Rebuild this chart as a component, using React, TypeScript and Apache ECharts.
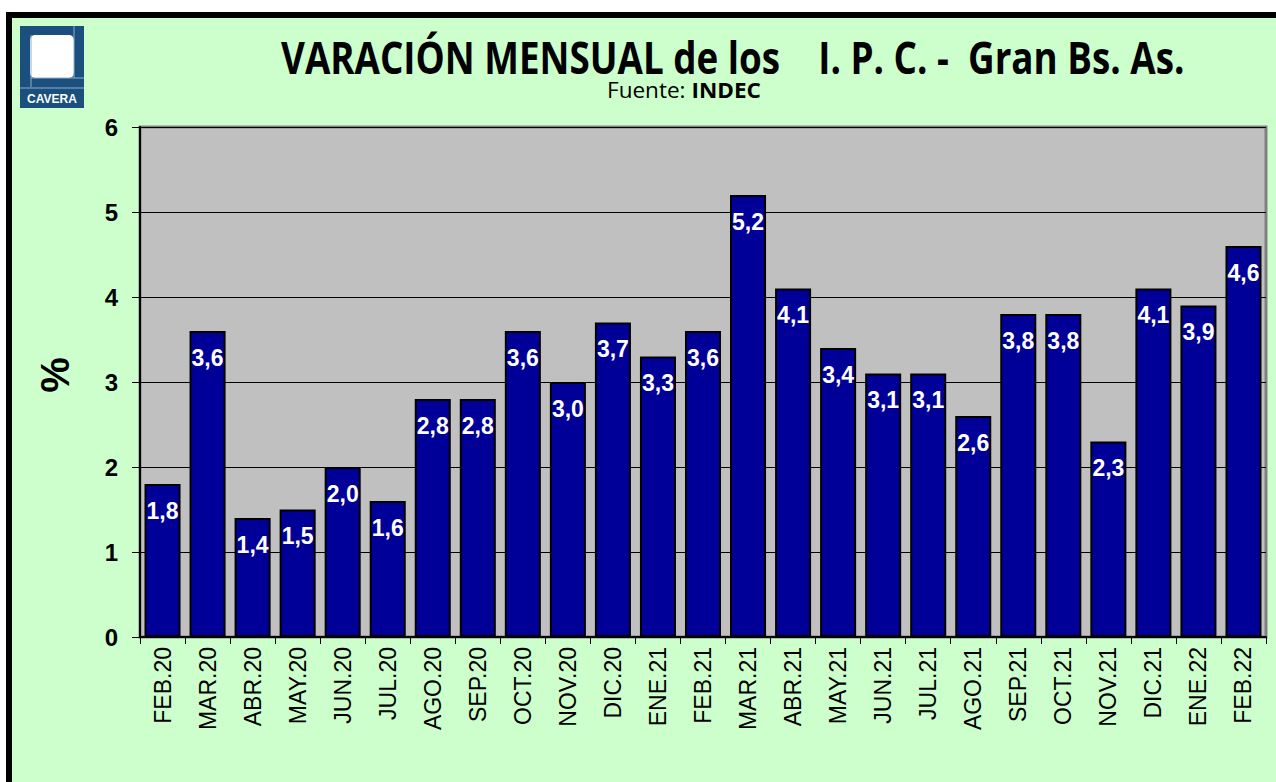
import React, { useEffect, useRef } from "react";
import * as echarts from "echarts";

const categories = [
  "FEB.20", "MAR.20", "ABR.20", "MAY.20", "JUN.20", "JUL.20", "AGO.20", "SEP.20",
  "OCT.20", "NOV.20", "DIC.20", "ENE.21", "FEB.21", "MAR.21", "ABR.21", "MAY.21",
  "JUN.21", "JUL.21", "AGO.21", "SEP.21", "OCT.21", "NOV.21", "DIC.21", "ENE.22", "FEB.22",
];
const values = [
  1.8, 3.6, 1.4, 1.5, 2.0, 1.6, 2.8, 2.8,
  3.6, 3.0, 3.7, 3.3, 3.6, 5.2, 4.1, 3.4,
  3.1, 3.1, 2.6, 3.8, 3.8, 2.3, 4.1, 3.9, 4.6,
];
const titleText = "VARACIÓN MENSUAL de los\u00A0\u00A0\u00A0\u00A0I. P. C. -\u00A0\u00A0Gran Bs. As.";
const sourceLabel = "Fuente: ";
const sourceName = "INDEC";
const yAxisName = "%";
const logoText = "CAVERA";

function measure(text: string, font: string): number {
  const ctx = document.createElement("canvas").getContext("2d");
  if (!ctx) return 100;
  ctx.font = font;
  return ctx.measureText(text).width;
}

export default function App() {
  const ref = useRef<HTMLDivElement>(null);
  useEffect(() => {
    document.body.style.margin = "0";
    if (!ref.current) return;
    const chart = echarts.init(ref.current, undefined, { renderer: "svg" });

    const titleFont = "'Open Sans', sans-serif";
    const titleSize = 44;
    const titleW = measure(titleText, `bold ${titleSize}px ${titleFont}`);
    const titleScale = 904 / titleW;
    const subSize = 22;
    const subW =
      measure(sourceLabel, `${subSize}px ${titleFont}`) +
      measure(sourceName, `bold ${subSize}px ${titleFont}`);
    const subScale = 154 / subW;
    const arial = "Arial, 'Liberation Sans', sans-serif";

    const option: any = {
      animation: false,
      backgroundColor: "#CCFFCC",
      grid: {
        left: 140,
        right: 10,
        top: 127,
        bottom: 145,
        show: true,
        backgroundColor: "#C0C0C0",
        borderColor: "#808080",
        borderWidth: 3,
      },
      xAxis: {
        type: "category",
        data: categories,
        axisLine: { show: true, lineStyle: { color: "#000", width: 2 } },
        axisTick: { show: true, length: 7, lineStyle: { color: "#000", width: 1 } },
        axisLabel: {
          interval: 0,
          rotate: 90,
          margin: 10,
          color: "#000",
          fontSize: 23,
          fontFamily: arial,
        },
      },
      yAxis: {
        type: "value",
        min: 0,
        max: 6,
        interval: 1,
        axisLine: { show: true, lineStyle: { color: "#000", width: 2 } },
        axisTick: { show: true, length: 8, lineStyle: { color: "#000", width: 1 } },
        axisLabel: {
          margin: 22,
          color: "#000",
          fontSize: 24,
          fontWeight: "bold",
          fontFamily: arial,
        },
        splitLine: { show: true, lineStyle: { color: "#000", width: 1 } },
      },
      series: [
        {
          type: "bar",
          data: values,
          barCategoryGap: "20%",
          itemStyle: { color: "#000099", borderColor: "#000", borderWidth: 2 },
          label: {
            show: true,
            position: "insideTop",
            distance: 15,
            color: "#fff",
            fontSize: 23,
            fontWeight: "bold",
            fontFamily: arial,
            formatter: (p: any) => Number(p.value).toFixed(1).replace(".", ","),
          },
        },
      ],
      graphic: [
        { type: "rect", shape: { x: 0, y: 0, width: 1276, height: 12 }, style: { fill: "#fff" }, silent: true },
        { type: "rect", shape: { x: 0, y: 0, width: 6, height: 782 }, style: { fill: "#fff" }, silent: true },
        { type: "rect", shape: { x: 6, y: 12, width: 1270, height: 6 }, style: { fill: "#000" }, silent: true },
        { type: "rect", shape: { x: 6, y: 12, width: 6, height: 770 }, style: { fill: "#000" }, silent: true },
        // logo
        { type: "rect", shape: { x: 20, y: 26, width: 64, height: 82 }, style: { fill: "#1B4F7E" }, silent: true },
        { type: "rect", shape: { x: 30, y: 35, width: 44, height: 43, r: 5 }, style: { fill: "#fff" }, silent: true },
        { type: "line", shape: { x1: 31, y1: 35, x2: 31, y2: 87 }, style: { stroke: "#8FAECB", lineWidth: 1 }, silent: true },
        { type: "line", shape: { x1: 31, y1: 78, x2: 84, y2: 78 }, style: { stroke: "#8FAECB", lineWidth: 1 }, silent: true },
        { type: "line", shape: { x1: 74, y1: 26, x2: 74, y2: 78 }, style: { stroke: "#8FAECB", lineWidth: 1 }, silent: true },
        { type: "line", shape: { x1: 20, y1: 88, x2: 84, y2: 88 }, style: { stroke: "#8FAECB", lineWidth: 1 }, silent: true },
        {
          type: "text", x: 52, y: 99, silent: true,
          style: {
            text: logoText, fill: "#fff", fontSize: 12, fontWeight: "bold",
            fontFamily: "'Liberation Sans', Arial, sans-serif", align: "center", verticalAlign: "middle",
          },
        },
        // title
        {
          type: "text", x: 281, y: 57, scaleX: titleScale, silent: true,
          style: {
            text: titleText, fill: "#000", fontSize: titleSize, fontWeight: "bold",
            fontFamily: titleFont, align: "left", verticalAlign: "middle",
          },
        },
        {
          type: "text", x: 607, y: 90, scaleX: subScale, silent: true,
          style: {
            text: `{a|${sourceLabel}}{b|${sourceName}}`,
            align: "left", verticalAlign: "middle",
            rich: {
              a: { fontSize: subSize, fontFamily: titleFont, fill: "#000", color: "#000" },
              b: { fontSize: subSize, fontFamily: titleFont, fontWeight: "bold", fill: "#000", color: "#000" },
            },
          },
        },
        {
          type: "text", x: 55, y: 375, rotation: Math.PI / 2, silent: true,
          style: {
            text: yAxisName, fill: "#000", fontSize: 40, fontWeight: "bold",
            fontFamily: arial, align: "center", verticalAlign: "middle",
          },
        },
      ],
    };
    chart.setOption(option);
    return () => chart.dispose();
  }, []);
  return <div ref={ref} style={{ width: 1276, height: 782 }} />;
}
